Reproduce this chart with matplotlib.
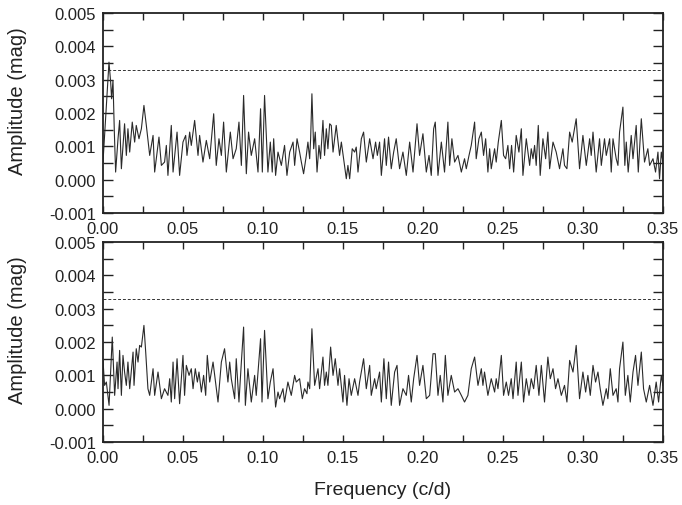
import numpy as np
import matplotlib.pyplot as plt
from matplotlib.ticker import MultipleLocator, FormatStrFormatter

# Amplitude spectra (frequency in c/d, amplitude in mmag)
top_freq = [0.0000, 0.00375, 0.0048, 0.0054, 0.00625, 0.0071, 0.0079, 0.0094, 0.0104, 0.0115,
            0.0135, 0.0146, 0.0156, 0.0167, 0.0183, 0.0198, 0.0208, 0.0225, 0.0240, 0.0256,
            0.0271, 0.0292, 0.0313, 0.0323, 0.0350, 0.0365, 0.0385, 0.0396, 0.0406, 0.0427,
            0.0438, 0.0463, 0.0479, 0.0500, 0.0517, 0.0525, 0.0542, 0.0552, 0.0573, 0.0594,
            0.0604, 0.0625, 0.0646, 0.0667, 0.0692, 0.0708, 0.0725, 0.0740, 0.0754, 0.0771,
            0.0796, 0.0813, 0.0833, 0.0850, 0.0865, 0.0879, 0.0896, 0.0910, 0.0927, 0.0948,
            0.0969, 0.0985, 0.0996, 0.1010, 0.1031, 0.1046, 0.1058, 0.1067, 0.1079, 0.1094,
            0.1115, 0.1135, 0.1150, 0.1167, 0.1188, 0.1198, 0.1213, 0.1229,
            0.1240, 0.1254, 0.1271, 0.1281, 0.1292, 0.1298, 0.1306, 0.1317, 0.1327, 0.1338,
            0.1350, 0.1360, 0.1375, 0.1385, 0.1396, 0.1406, 0.1417, 0.1427, 0.1438, 0.1458,
            0.1479, 0.1490, 0.1510, 0.1521, 0.1531, 0.1542, 0.1558, 0.1573, 0.1583, 0.1594,
            0.1615, 0.1629, 0.1646, 0.1667, 0.1688, 0.1704, 0.1715, 0.1729, 0.1740, 0.1760,
            0.1771, 0.1785, 0.1802, 0.1817, 0.1833, 0.1854, 0.1875, 0.1896, 0.1917, 0.1938,
            0.1963, 0.1979, 0.2000, 0.2021, 0.2038, 0.2052, 0.2067, 0.2077, 0.2094, 0.2115,
            0.2135, 0.2156, 0.2167, 0.2181, 0.2198, 0.2219, 0.2240, 0.2260, 0.2271, 0.2288,
            0.2302, 0.2323, 0.2333, 0.2350,
            0.2365, 0.2379, 0.2392, 0.2406, 0.2417, 0.2427, 0.2448, 0.2458, 0.2471, 0.2490,
            0.2504, 0.2517, 0.2531, 0.2542, 0.2554, 0.2567, 0.2583, 0.2600, 0.2615, 0.2625,
            0.2646, 0.2667, 0.2677, 0.2688, 0.2698, 0.2708, 0.2721, 0.2733, 0.2750, 0.2767,
            0.2781, 0.2792, 0.2813, 0.2833, 0.2854, 0.2875, 0.2885, 0.2900, 0.2917, 0.2933,
            0.2958, 0.2979, 0.3000, 0.3021, 0.3042, 0.3052, 0.3063, 0.3083, 0.3104, 0.3115,
            0.3135, 0.3146, 0.3167, 0.3177, 0.3188, 0.3208, 0.3219, 0.3229, 0.3250, 0.3262,
            0.3271, 0.3283, 0.3302, 0.3313, 0.3333, 0.3346, 0.3365, 0.3385, 0.3406, 0.3417,
            0.3438, 0.3454, 0.3469, 0.3479, 0.3490, 0.3500]
top_amp = [0.53, 3.53, 2.93, 2.43, 2.98, 1.43, 0.23, 1.23, 1.78, 0.33,
           1.68, 0.73, 1.53, 0.83, 1.73, 1.13, 1.63, 1.23, 1.53, 2.23,
           1.63, 0.73, 1.33, 0.23, 1.28, 0.43, 0.53, 1.03, 0.13, 1.63,
           0.23, 1.43, 0.13, 1.13, 1.33, 0.73, 1.43, 1.03, 1.78, 0.73,
           1.33, 0.53, 1.18, 0.63, 1.98, 0.43, 1.23, 0.73, 1.73, 0.23,
           1.43, 0.63, 0.93, 1.73, 0.43, 2.53, 0.18, 1.43, 0.73, 1.23,
           0.23, 2.13, 0.23, 2.53, 0.23, 1.13, 0.23, 1.23, 0.13, 0.83,
           0.43, 1.03, 0.13, 0.83, 1.13, 0.43, 1.23, 0.83,
           0.53, 0.18, 0.73, 1.13, 0.63, 1.23, 2.58, 0.93, 1.43, 0.23,
           1.03, 0.63, 1.78, 0.73, 1.53, 0.93, 1.68, 1.63, 0.83, 1.63,
           0.73, 1.13, 0.43, 0.03, 0.43, 0.03, 0.93, 0.83, 0.98, 0.23,
           1.23, 1.43, 0.53, 1.23, 0.63, 1.13, 0.73, 1.13, 0.13, 1.23,
           0.43, 1.28, 0.33, 0.83, 1.23, 0.33, 0.83, 0.13, 1.13, 0.23,
           1.68, 0.73, 1.38, 0.23, 0.73, 0.13, 1.53, 1.73, 0.13, 1.13,
           0.23, 1.73, 0.43, 1.23, 0.53, 0.73, 0.23, 0.63, 0.33, 0.73,
           1.03, 1.73, 0.63, 1.23,
           1.43, 0.73, 1.23, 0.23, 0.93, 0.33, 0.93, 0.53, 1.13, 1.78,
           0.73, 0.63, 1.03, 0.33, 1.03, 0.23, 1.33, 0.83, 1.53, 0.13,
           1.23, 0.43, 0.93, 0.63, 1.03, 0.43, 1.63, 0.13, 1.23, 0.63,
           1.43, 0.33, 1.13, 0.83, 0.33, 0.93, 0.43, 0.33, 1.43, 1.13,
           1.83, 0.33, 1.33, 0.43, 1.23, 0.73, 1.43, 0.23, 1.23, 0.43,
           1.23, 0.73, 1.23, 0.23, 1.23, 0.63, 0.43, 1.43, 2.18, 0.43,
           1.13, 0.23, 1.33, 0.63, 1.63, 0.23, 1.83, 0.53, 0.93, 0.43,
           0.63, 0.23, 0.83, 0.03, 0.83, 0.53]

bot_freq = [0.0000, 0.0010, 0.0021, 0.0038, 0.0058, 0.0073, 0.0088, 0.0094, 0.0104, 0.0115,
            0.0125, 0.0135, 0.0146, 0.0156, 0.0167, 0.0188, 0.0194, 0.0208, 0.0219, 0.0229,
            0.0240, 0.0256, 0.0267, 0.0281, 0.0292, 0.0313, 0.0323, 0.0344, 0.0365, 0.0385,
            0.0406, 0.0417, 0.0427, 0.0438, 0.0448, 0.0463, 0.0479, 0.0500, 0.0510, 0.0521,
            0.0538, 0.0552, 0.0563, 0.0577, 0.0590, 0.0600, 0.0615, 0.0629, 0.0642, 0.0652,
            0.0667, 0.0688, 0.0719, 0.0740, 0.0760, 0.0781, 0.0792, 0.0802, 0.0823, 0.0833,
            0.0850, 0.0865, 0.0879, 0.0890, 0.0906, 0.0927, 0.0948, 0.0958, 0.0985, 0.0994,
            0.1010, 0.1031, 0.1046, 0.1063, 0.1079, 0.1094, 0.1104, 0.1125, 0.1135, 0.1156,
            0.1177, 0.1198, 0.1208, 0.1229,
            0.1246, 0.1260, 0.1275, 0.1281, 0.1292, 0.1306, 0.1323, 0.1344, 0.1354, 0.1375,
            0.1385, 0.1396, 0.1406, 0.1423, 0.1438, 0.1452, 0.1469, 0.1479, 0.1500, 0.1510,
            0.1525, 0.1538, 0.1552, 0.1573, 0.1594, 0.1604, 0.1629, 0.1646, 0.1667, 0.1677,
            0.1698, 0.1708, 0.1729, 0.1740, 0.1756, 0.1771, 0.1785, 0.1802, 0.1823, 0.1838,
            0.1854, 0.1875, 0.1896, 0.1910, 0.1927, 0.1942, 0.1963, 0.1979, 0.2000, 0.2021,
            0.2042, 0.2063, 0.2077, 0.2094, 0.2108, 0.2125, 0.2140, 0.2156, 0.2177, 0.2198,
            0.2219, 0.2240, 0.2260, 0.2281, 0.2302, 0.2323, 0.2344,
            0.2365, 0.2375, 0.2385, 0.2406, 0.2427, 0.2448, 0.2458, 0.2469, 0.2490, 0.2504,
            0.2521, 0.2535, 0.2552, 0.2563, 0.2583, 0.2594, 0.2615, 0.2629, 0.2646, 0.2663,
            0.2677, 0.2692, 0.2708, 0.2725, 0.2740, 0.2760, 0.2781, 0.2796, 0.2813, 0.2829,
            0.2844, 0.2865, 0.2885, 0.2900, 0.2917, 0.2938, 0.2958, 0.2979, 0.3000, 0.3017,
            0.3031, 0.3046, 0.3063, 0.3079, 0.3094, 0.3108, 0.3125, 0.3146, 0.3156, 0.3171,
            0.3188, 0.3208, 0.3219, 0.3229, 0.3250, 0.3265, 0.3281, 0.3296, 0.3313, 0.3329,
            0.3344, 0.3365, 0.3379, 0.3396, 0.3417, 0.3438, 0.3458, 0.3473, 0.3490, 0.3500]
bot_amp = [1.45, 0.70, 0.80, 0.10, 2.15, 0.40, 1.40, 0.60, 1.75, 0.40,
           1.60, 1.10, 0.70, 1.40, 0.60, 1.70, 0.70, 1.80, 1.40, 1.90,
           1.85, 2.50, 1.70, 0.60, 0.40, 1.20, 0.40, 1.10, 0.30, 0.60,
           0.40, 0.90, 0.20, 1.40, 0.30, 1.50, 0.15, 1.60, 0.40, 1.30,
           1.00, 1.20, 0.60, 1.20, 0.80, 1.10, 0.50, 1.00, 0.40, 1.60,
           0.80, 1.40, 0.20, 1.40, 1.80, 0.80, 1.40, 0.90, 0.30, 1.50,
           0.20, 1.40, 2.45, 0.10, 1.20, 0.20, 1.00, 0.40, 2.10, 0.20,
           2.35, 0.30, 0.80, 1.20, 0.05, 0.50, 0.30, 0.60, 0.20, 0.80,
           0.40, 1.00, 0.80, 0.90,
           0.30, 0.60, 0.45, 0.80, 0.60, 2.40, 0.70, 1.20, 0.60, 1.55,
           0.70, 1.10, 0.70, 1.85, 1.00, 1.50, 0.70, 1.20, 0.20, 1.00,
           0.10, 0.90, 0.40, 0.90, 0.40, 0.80, 1.50, 0.60, 1.30, 0.40,
           0.90, 0.60, 1.10, 0.20, 1.50, 0.30, 1.40, 0.10, 1.10, 1.30,
           0.10, 0.60, 0.40, 1.00, 0.20, 0.90, 1.60, 0.70, 1.30, 0.30,
           0.40, 1.65, 1.65, 0.40, 1.00, 0.20, 1.60, 0.40, 1.00, 0.50,
           0.60, 0.40, 0.20, 0.40, 1.20, 1.55, 0.70,
           1.20, 0.70, 1.10, 0.40, 0.90, 0.50, 0.90, 0.60, 1.60, 0.40,
           0.80, 0.40, 0.90, 0.30, 1.40, 0.40, 1.40, 0.20, 0.90, 0.40,
           0.90, 0.60, 1.30, 0.40, 1.30, 0.20, 1.55, 0.90, 1.20, 0.60,
           0.90, 0.40, 0.70, 0.20, 1.45, 1.10, 1.90, 0.30, 1.10, 0.50,
           1.00, 0.40, 1.30, 0.80, 1.10, 0.60, 0.10, 0.60, 0.30, 1.20,
           0.40, 0.60, 0.20, 1.20, 2.00, 0.40, 1.00, 0.20, 1.10, 1.60,
           0.70, 1.70, 0.60, 0.20, 0.70, 0.10, 0.80, 0.20, 1.00, 0.70]

# significance level (dashed)
sig_level = [0.00328, 0.00328]

plt.rcParams['font.family'] = ['Liberation Sans', 'DejaVu Sans']

fig = plt.figure(figsize=(6.82, 5.06), dpi=100)
ax_top = fig.add_axes([0.151, 0.577, 0.821, 0.395])
ax_bot = fig.add_axes([0.151, 0.1245, 0.821, 0.395])

panels = [(ax_top, top_freq, top_amp), (ax_bot, bot_freq, bot_amp)]
for ax, freq, amp in panels:
    ax.plot(freq, np.array(amp) * 1e-3, color='#2a2a2a', lw=0.8)
    ax.plot([0.0, 0.35], sig_level, color='#333333', lw=0.7, ls=(0, (3, 2)))
    ax.set_xlim(0.0, 0.35)
    ax.set_ylim(-0.001, 0.005)
    ax.xaxis.set_major_locator(MultipleLocator(0.05))
    ax.xaxis.set_minor_locator(MultipleLocator(0.025))
    ax.yaxis.set_major_locator(MultipleLocator(0.001))
    ax.yaxis.set_minor_locator(MultipleLocator(0.0005))
    ax.xaxis.set_major_formatter(FormatStrFormatter('%.2f'))
    ax.yaxis.set_major_formatter(FormatStrFormatter('%.3f'))
    ax.tick_params(axis='both', which='both', direction='in', top=True, right=True,
                   width=1.0, labelsize=12, colors='#222222')
    ax.tick_params(axis='y', which='both', length=7, pad=5)
    ax.tick_params(axis='x', which='both', length=5, pad=6)
    for sp in ax.spines.values():
        sp.set_linewidth(1.3)
        sp.set_color('#222222')
    ax.set_ylabel('Amplitude (mag)', fontsize=14.5, color='#222222')
    ax.yaxis.set_label_coords(-0.136, 0.567)

ax_bot.set_xlabel('Frequency (c/d)', fontsize=14, color='#222222', labelpad=11)

fig.savefig('out.png', dpi=100)
